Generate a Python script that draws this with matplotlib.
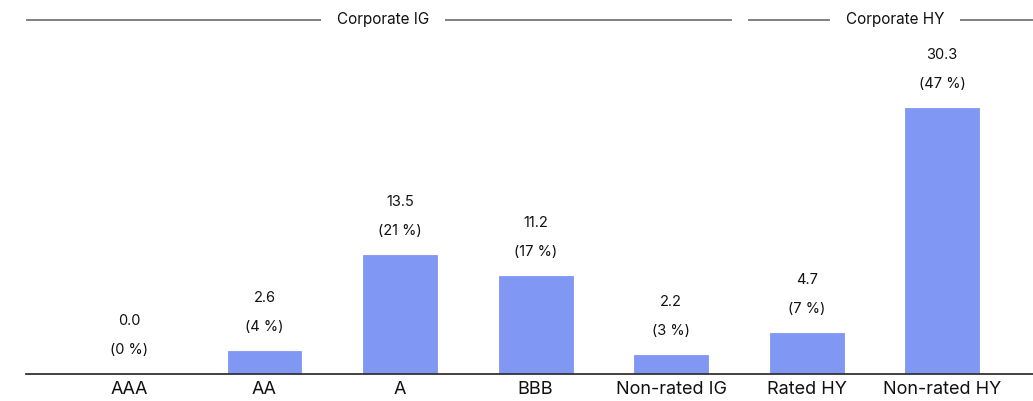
import matplotlib.pyplot as plt
import numpy as np

categories = ["AAA", "AA", "A", "BBB", "Non-rated IG", "Rated HY", "Non-rated HY"]
values = [0.0, 2.6, 13.5, 11.2, 2.2, 4.7, 30.3]
shares = [0, 4, 21, 17, 3, 7, 47]
groups = ["Corporate IG", "Corporate HY"]

plt.rcParams["font.family"] = ["Inter", "DejaVu Sans"]

fig = plt.figure(figsize=(10.33, 4.01), dpi=100)
ax = fig.add_axes([26 / 1033, 27 / 401, 1 - 26 / 1033, 374 / 401])

x = np.arange(len(categories))
ax.bar(x, values, width=0.545, color="#8097F4", edgecolor="#8097F4", linewidth=0.6)

ymax = 42.6
ax.set_ylim(0, ymax)
ax.set_xlim(-0.76, 6.67)
ax.set_xticks(x)
ax.set_xticklabels(categories, fontsize=13, color="#111111")
ax.tick_params(axis="x", length=0, pad=5)
ax.set_yticks([])
for side in ("left", "right", "top"):
    ax.spines[side].set_visible(False)
ax.spines["bottom"].set_color("#333333")
ax.spines["bottom"].set_linewidth(1.3)

# value and share labels above each bar
unit = ymax / 374
for xi, v, s in zip(x, values, shares):
    ax.text(xi, v + 53 * unit, f"{v:.1f}", ha="center", va="center", fontsize=10.5, color="#111111")
    ax.text(xi, v + 24 * unit, f"({s} %)", ha="center", va="center", fontsize=10.5, color="#111111")

# group headers with rules on either side
span_edges = {"Corporate IG": (-0.76, 4.45), "Corporate HY": (4.57, 6.67)}
ytop = ymax - 19.5 * unit
gap = 0.115
fig.canvas.draw()
for name in groups:
    lo, hi = span_edges[name]
    mid = (lo + hi) / 2 + 0.03
    t = ax.text(mid, ytop, name, ha="center", va="center", fontsize=11, color="#111111", clip_on=False)
    bb = t.get_window_extent(renderer=fig.canvas.get_renderer()).transformed(ax.transData.inverted())
    ax.plot([lo, bb.x0 - gap], [ytop, ytop], color="#777777", lw=1.3, clip_on=False, solid_capstyle="butt")
    ax.plot([bb.x1 + gap, hi], [ytop, ytop], color="#777777", lw=1.3, clip_on=False, solid_capstyle="butt")

fig.savefig("out.png", dpi=100)
